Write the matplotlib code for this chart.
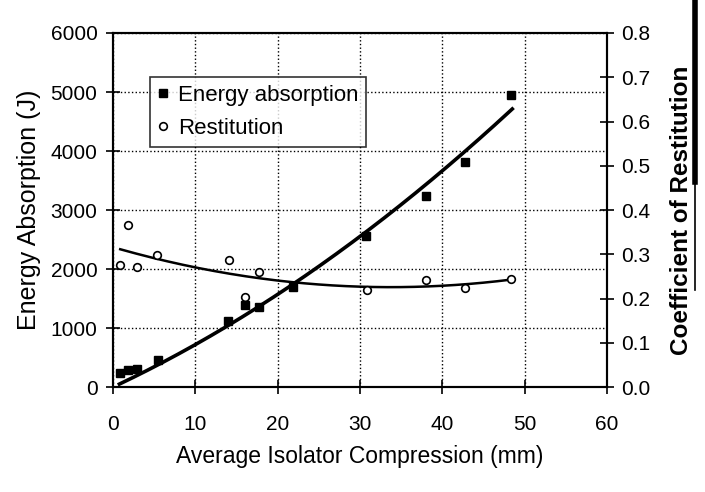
import numpy as np
import matplotlib
matplotlib.use("Agg")
import matplotlib.pyplot as plt
from matplotlib.lines import Line2D

plt.rcParams['font.family'] = ['Liberation Sans', 'DejaVu Sans']

# energy absorption data (J) vs average isolator compression (mm)
energy_x = [0.9, 1.9, 2.9, 5.5, 14.0, 16.0, 17.7, 21.9, 30.8, 38.0, 42.7, 48.3]
energy_y = [233, 290, 313, 461, 1120, 1400, 1355, 1700, 2560, 3240, 3820, 4950]

# coefficient of restitution data
rest_x = [0.9, 1.9, 2.9, 5.4, 14.1, 16.0, 17.8, 30.9, 38.0, 42.8, 48.3]
rest_y = [0.275, 0.367, 0.271, 0.298, 0.288, 0.203, 0.260, 0.220, 0.243, 0.223, 0.244]

x_ticks = [0, 10, 20, 30, 40, 50, 60]
e_ticks = [0, 1000, 2000, 3000, 4000, 5000, 6000]
r_ticks = [0.0, 0.1, 0.2, 0.3, 0.4, 0.5, 0.6, 0.7, 0.8]

fig = plt.figure(figsize=(7.05, 4.92), dpi=100)
ax = fig.add_axes([0.160, 0.213, 0.701, 0.720])

# trendlines (Excel style polynomial fits)
ex = np.array(energy_x)
A = np.vstack([ex, ex ** 2]).T
coef, *_ = np.linalg.lstsq(A, np.array(energy_y), rcond=None)
xs = np.linspace(0.8, 48.5, 200)
ax.plot(xs, coef[0] * xs + coef[1] * xs ** 2, color='black', lw=2.6, zorder=3)

h1, = ax.plot(energy_x, energy_y, ls='none', marker='s', ms=6,
              mfc='black', mec='black', label='Energy absorption', zorder=4)

ax.set_xlim(0, 60)
ax.set_ylim(0, 6000)
ax.set_xticks(x_ticks)
ax.set_yticks(e_ticks)
ax.grid(True, ls=':', color='black', lw=1)
ax.tick_params(direction='inout', length=10, width=1.2, labelsize=15)
ax.tick_params(axis='x', pad=15)
ax.tick_params(axis='y', pad=6)
for s in ax.spines.values():
    s.set_linewidth(1.5)
ax.set_xlabel('Average Isolator Compression (mm)', fontsize=16.5, labelpad=8)
ax.set_ylabel('Energy Absorption (J)', fontsize=18, labelpad=7)

ax2 = ax.twinx()
rc = np.polyfit(rest_x, rest_y, 2)
xr = np.linspace(0.9, 48.3, 200)
ax2.plot(xr, np.polyval(rc, xr), color='black', lw=1.8, zorder=3)
h2, = ax2.plot(rest_x, rest_y, ls='none', marker='o', ms=5.5,
               mfc='white', mec='black', mew=1.2, label='Restitution', zorder=4)
ax2.set_ylim(0, 0.8)
ax2.set_yticks(r_ticks)
ax2.set_yticklabels([f'{v:.1f}' for v in r_ticks])
ax2.tick_params(direction='inout', length=10, width=1.2, labelsize=15, pad=5)
ax2.set_ylabel('Coefficient of Restitution', fontsize=17.5, fontweight='bold', labelpad=14)
for s in ax2.spines.values():
    s.set_linewidth(1.5)

leg = ax2.legend(handles=[h1, h2], loc='upper left', bbox_to_anchor=(0.075, 0.875),
                 borderaxespad=0, fontsize=16, frameon=True, fancybox=False,
                 edgecolor='black', handlelength=0.5, handletextpad=0.4,
                 borderpad=0.35, labelspacing=0.55)
leg.get_frame().set_linewidth(1.2)

# dark scan edge on the right
fig.add_artist(Line2D([0.986, 0.986], [1.0, 0.63], color='black', lw=4))
fig.add_artist(Line2D([0.986, 0.986], [0.63, 0.41], color='black', lw=1.2))

fig.savefig('out.png', dpi=100)
